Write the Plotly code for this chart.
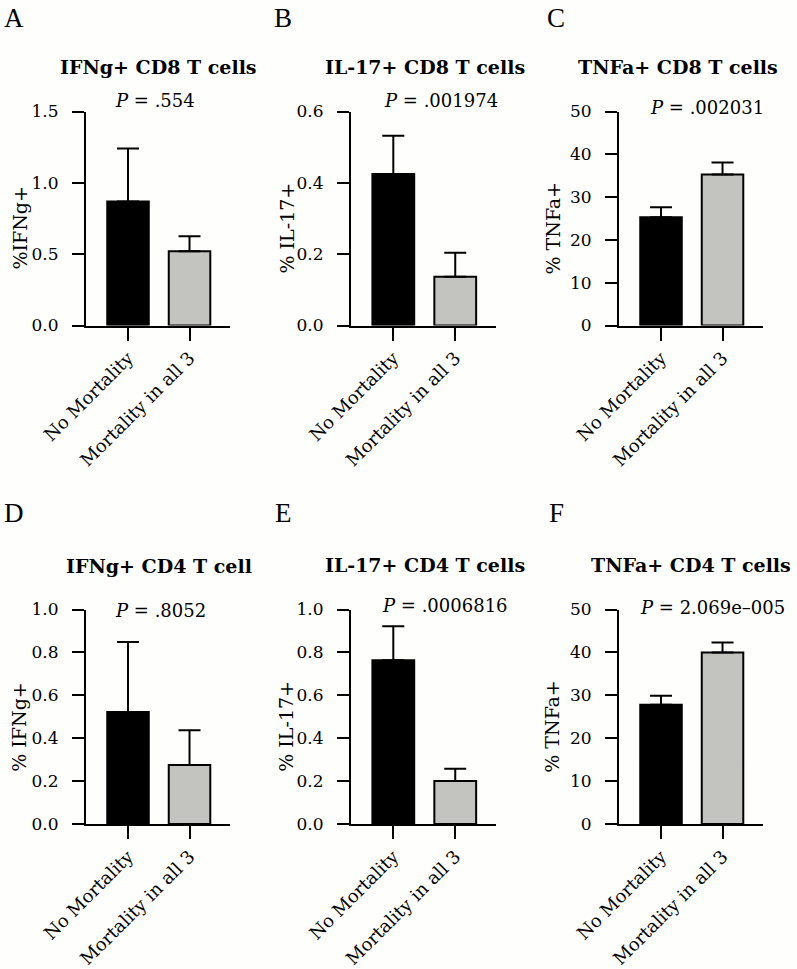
import plotly.graph_objects as go

W, H = 797, 969

categories = ["No Mortality", "Mortality in all 3"]

panel_letters = ["A", "B", "C", "D", "E", "F"]
panel_titles = ["IFNg+ CD8 T cells", "IL-17+ CD8 T cells", "TNFa+ CD8 T cells",
                "IFNg+ CD4 T cell", "IL-17+ CD4 T cells", "TNFa+ CD4 T cells"]
y_titles = ["%IFNg+", "% IL-17+", "% TNFa+", "% IFNg+", "% IL-17+", "% TNFa+"]
p_texts = [".554", ".001974", ".002031", ".8052", ".0006816", "2.069e\u2013005"]

# means and upper error (mean + SEM)
means_A = [0.87, 0.52]
upper_A = [1.24, 0.625]
means_B = [0.425, 0.137]
upper_B = [0.532, 0.204]
means_C = [25.3, 35.3]
upper_C = [27.6, 38.1]
means_D = [0.522, 0.275]
upper_D = [0.849, 0.437]
means_E = [0.763, 0.201]
upper_E = [0.922, 0.258]
means_F = [27.8, 40.0]
upper_F = [29.9, 42.3]

y_max = [1.5, 0.6, 50, 1.0, 1.0, 50]
y_ticks = [[0, 0.5, 1.0, 1.5], [0, 0.2, 0.4, 0.6], [0, 10, 20, 30, 40, 50],
           [0, 0.2, 0.4, 0.6, 0.8, 1.0], [0, 0.2, 0.4, 0.6, 0.8, 1.0], [0, 10, 20, 30, 40, 50]]
y_ticktext = [["0.0", "0.5", "1.0", "1.5"], ["0.0", "0.2", "0.4", "0.6"],
              ["0", "10", "20", "30", "40", "50"],
              ["0.0", "0.2", "0.4", "0.6", "0.8", "1.0"], ["0.0", "0.2", "0.4", "0.6", "0.8", "1.0"],
              ["0", "10", "20", "30", "40", "50"]]

means = [means_A, means_B, means_C, means_D, means_E, means_F]
uppers = [upper_A, upper_B, upper_C, upper_D, upper_E, upper_F]

bar_colors = ["#000000", "#c3c4c0"]

# layout geometry (pixels)
col_x = [(86, 230), (351, 496), (619, 763)]
row_y = [(111.5, 325.5), (609.5, 824)]
letter_pos = [(2, 18), (272, 18), (545, 18), (2, 513), (273, 513), (547, 513)]
title_pos = [(158, 67), (425, 67), (678, 67), (159, 566), (425, 565), (691, 565)]
p_pos = [(113, 100), (382, 100), (648, 107), (113, 610), (380, 605), (638, 607)]
ytitle_x = [19, 286, 552, 19, 286, 552]

SERIF = "DejaVu Serif"

def px(x):
    return x / W

def py(y):
    return 1 - y / H

fig = go.Figure()
annotations = []
layout_axes = {}

for i in range(6):
    r, c = divmod(i, 3)
    n = "" if i == 0 else str(i + 1)
    xa, ya = "x" + n, "y" + n
    fig.add_trace(go.Bar(
        x=categories, y=means[i],
        xaxis=xa, yaxis=ya,
        width=0.675,
        marker=dict(color=bar_colors, line=dict(color="black", width=2)),
        error_y=dict(type="data", symmetric=False,
                     array=[u - m for u, m in zip(uppers[i], means[i])],
                     arrayminus=[0, 0], color="black", thickness=2, width=11),
        showlegend=False, hoverinfo="skip",
    ))
    x0, x1 = col_x[c]
    ytop, ybot = row_y[r]
    layout_axes["xaxis" + n] = dict(
        domain=[px(x0), px(x1)], anchor=ya, type="category", automargin=False,
        range=[-0.683, 1.658], showline=True, linewidth=2, linecolor="black",
        ticks="outside", ticklen=13, tickwidth=2, tickcolor="black",
        tickangle=-45, tickfont=dict(family=SERIF, size=18, color="black"),
        showgrid=False, zeroline=False, fixedrange=True)
    layout_axes["yaxis" + n] = dict(
        domain=[py(ybot), py(ytop)], anchor=xa, automargin=False,
        range=[0, y_max[i]], tickvals=y_ticks[i], ticktext=y_ticktext[i],
        showline=True, linewidth=2, linecolor="black",
        ticks="outside", ticklen=12, tickwidth=2, tickcolor="black",
        ticklabelstandoff=10,
        tickfont=dict(family=SERIF, size=17, color="black"),
        showgrid=False, zeroline=False, fixedrange=True)

    lx, ly = letter_pos[i]
    annotations.append(dict(text=panel_letters[i], x=px(lx), y=py(ly), xref="paper", yref="paper",
                            xanchor="left", yanchor="middle", showarrow=False,
                            font=dict(family="Liberation Serif", size=27, color="black")))
    tx, ty = title_pos[i]
    annotations.append(dict(text="<b>" + panel_titles[i] + "</b>", x=px(tx), y=py(ty),
                            xref="paper", yref="paper", xanchor="center", yanchor="middle",
                            showarrow=False, font=dict(family=SERIF, size=19, color="black")))
    ppx, ppy = p_pos[i]
    annotations.append(dict(text="<i>P</i> = " + p_texts[i], x=px(ppx), y=py(ppy),
                            xref="paper", yref="paper", xanchor="left", yanchor="middle",
                            showarrow=False, font=dict(family=SERIF, size=18, color="black")))
    annotations.append(dict(text=y_titles[i], x=px(ytitle_x[i]), y=py((ytop + ybot) / 2 + 10),
                            xref="paper", yref="paper", xanchor="center", yanchor="middle",
                            textangle=-90, showarrow=False,
                            font=dict(family=SERIF, size=19, color="black")))

fig.update_layout(
    template="none",
    width=W, height=H, autosize=False,
    margin=dict(l=0, r=0, t=0, b=0, pad=0),
    paper_bgcolor="#fefefc", plot_bgcolor="#fefefc",
    annotations=annotations,
    bargap=0,
    **layout_axes,
)

fig.write_html("out.html",
               config={"displayModeBar": False, "staticPlot": True},
               post_script="document.body.style.margin='0';document.body.style.background='#fefefc';")
